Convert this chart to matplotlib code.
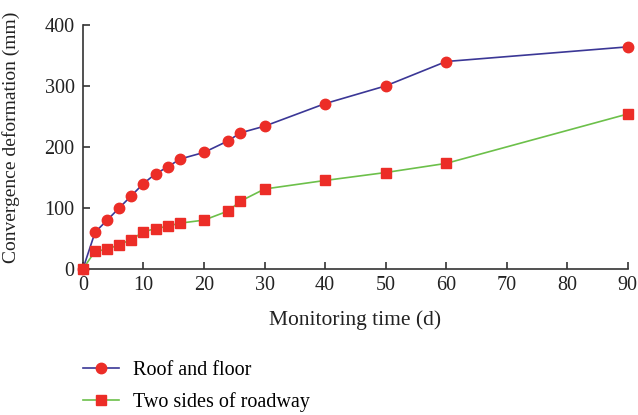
import matplotlib.pyplot as plt

days = [0, 2, 4, 6, 8, 10, 12, 14, 16, 20, 24, 26, 30, 40, 50, 60, 90]
roof_floor = [0, 60, 80, 100, 120, 140, 156, 167, 180, 191, 210, 223, 234, 271, 300, 340, 364]
two_sides = [0, 29, 32, 40, 48, 61, 66, 70, 75, 80, 95, 111, 131, 145, 158, 173, 254]

plt.rcParams['font.family'] = ['Liberation Serif', 'DejaVu Serif']

fig = plt.figure(figsize=(6.38, 4.15), dpi=100)
ax = fig.add_axes([0.130, 0.352, 0.854, 0.588])

red = '#ec2d27'
l1, = ax.plot(days, roof_floor, color='#3b3796', lw=1.2, marker='o', ms=7.5,
              mfc=red, mec=red, clip_on=False, zorder=3)
l2, = ax.plot(days, two_sides, color='#6cc04a', lw=1.2, marker='s', ms=7,
              mfc=red, mec=red, clip_on=False, zorder=3)

ax.set_xlim(0, 90)
ax.set_ylim(0, 400)
ax.set_xticks(range(0, 91, 10))
ax.set_yticks(range(0, 401, 100))
for s in ['top', 'right']:
    ax.spines[s].set_visible(False)
for s in ['left', 'bottom']:
    ax.spines[s].set_color('#333333')
    ax.spines[s].set_linewidth(1.2)
ax.tick_params(direction='in', length=5, width=1.2, color='#333333',
               labelsize=14.5, colors='#222222', pad=6)
ax.tick_params(axis='x', pad=5)
ax.set_xlabel('Monitoring time (d)', fontsize=15.5, color='#222222', labelpad=11)
ax.set_ylabel('Convergence deformation (mm)', fontsize=14, color='#222222')
ax.yaxis.set_label_coords(-0.116, 0.54)

fig.legend([l1, l2], ['Roof and floor', 'Two sides of roadway'],
           loc='upper left', bbox_to_anchor=(0.130, 0.131), frameon=False,
           borderpad=0, borderaxespad=0,
           fontsize=14.5, handlelength=1.8, handletextpad=0.68, labelspacing=0.62)

fig.savefig('out.png', dpi=100)
